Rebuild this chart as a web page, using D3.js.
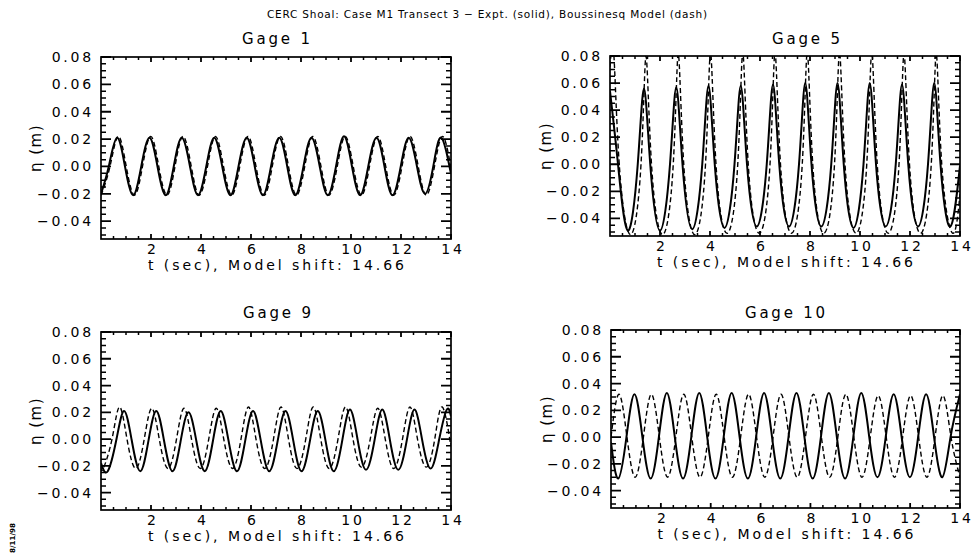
<!DOCTYPE html>
<html><head><meta charset="utf-8">
<script src="https://cdn.jsdelivr.net/npm/d3@7"></script>
<style>
html,body{margin:0;padding:0;background:#fff;}
svg{display:block;font-family:"DejaVu Sans",sans-serif;}
</style></head><body>
<svg id="chart" width="974" height="555"></svg>
<script>
// ---------- text / ticks ----------
const mainTitle = "CERC Shoal: Case M1 Transect 3 \u2212 Expt. (solid), Boussinesq Model (dash)";
const gageNames = ["Gage 1", "Gage 5", "Gage 9", "Gage 10"];
const xLabel = "t (sec), Model shift: 14.66";
const yLabel = "\u03B7 (m)";
const xMajorTicks = [2, 4, 6, 8, 10, 12, 14];
const yMajorTicks = [0.08, 0.06, 0.04, 0.02, 0.00, -0.02, -0.04];
const xMinorTicks = [0.5, 1, 1.5, 2.5, 3, 3.5, 4.5, 5, 5.5, 6.5, 7, 7.5, 8.5, 9, 9.5, 10.5, 11, 11.5, 12.5, 13, 13.5];
const yMinorTicks = [0.075, 0.07, 0.065, 0.055, 0.05, 0.045, 0.035, 0.03, 0.025, 0.015, 0.01, 0.005, -0.005, -0.01, -0.015, -0.025, -0.03, -0.035, -0.045, -0.05];
const xDomain = [0, 14];
const yDomain = [-0.053, 0.08];
const dateStamp = "8/11/98";

// ---------- data: [t (s), eta (m)] ----------
const g1Expt = [[0,-0.020],[0.31,0],[0.64,0.021],[0.96,0],[1.29,-0.021],[1.61,0],[1.94,0.021],[2.26,0],[2.59,-0.021],[2.91,0],[3.23,0.021],[3.56,0],[3.88,-0.021],[4.21,0],[4.53,0.021],[4.85,0],[5.18,-0.021],[5.50,0],[5.83,0.021],[6.15,0],[6.48,-0.021],[6.80,0],[7.13,0.021],[7.45,0],[7.77,-0.021],[8.10,0],[8.42,0.021],[8.75,0],[9.07,-0.021],[9.40,0],[9.72,0.022],[10.04,0],[10.37,-0.021],[10.69,0],[11.02,0.021],[11.34,0],[11.66,-0.021],[11.99,0],[12.31,0.021],[12.64,0],[12.96,-0.020],[13.29,0],[13.61,0.021],[13.94,0],[14,-0.004]];
const g1Model = [[0,-0.021],[0.36,0],[0.69,0.022],[1.01,0],[1.34,-0.021],[1.66,0],[1.99,0.022],[2.31,0],[2.64,-0.021],[2.96,0],[3.28,0.022],[3.61,0],[3.93,-0.021],[4.26,0],[4.58,0.022],[4.90,0],[5.23,-0.021],[5.55,0],[5.88,0.022],[6.20,0],[6.53,-0.021],[6.85,0],[7.18,0.022],[7.50,0],[7.82,-0.021],[8.15,0],[8.47,0.022],[8.80,0],[9.12,-0.021],[9.45,0],[9.77,0.022],[10.09,0],[10.42,-0.021],[10.74,0],[11.07,0.022],[11.39,0],[11.71,-0.021],[12.04,0],[12.36,0.022],[12.69,0],[13.01,-0.021],[13.34,0],[13.66,0.022],[14,-0.001]];

const g5Expt = [[0,0.054],[0.32,0],[0.71,-0.049],[1.11,0],[1.36,0.056],[1.61,0],[2.00,-0.049],[2.40,0],[2.65,0.057],[2.90,0],[3.29,-0.048],[3.69,0],[3.94,0.058],[4.19,0],[4.58,-0.047],[4.98,0],[5.23,0.058],[5.48,0],[5.87,-0.046],[6.27,0],[6.52,0.059],[6.77,0],[7.16,-0.046],[7.56,0],[7.81,0.060],[8.06,0],[8.45,-0.046],[8.85,0],[9.10,0.060],[9.35,0],[9.74,-0.047],[10.14,0],[10.39,0.060],[10.64,0],[11.03,-0.046],[11.43,0],[11.68,0.059],[11.93,0],[12.32,-0.046],[12.72,0],[12.97,0.060],[13.22,0],[13.61,-0.046],[14,-0.001]];
const g5Model = [[0,0.072],[0.15,0.082],[0.37,0],[0.81,-0.052],[1.24,0],[1.44,0.080],[1.66,0],[2.10,-0.052],[2.53,0],[2.73,0.082],[2.95,0],[3.39,-0.052],[3.82,0],[4.02,0.083],[4.24,0],[4.68,-0.051],[5.11,0],[5.31,0.083],[5.53,0],[5.97,-0.051],[6.40,0],[6.60,0.083],[6.82,0],[7.26,-0.051],[7.69,0],[7.89,0.083],[8.11,0],[8.55,-0.051],[8.98,0],[9.18,0.083],[9.40,0],[9.84,-0.051],[10.27,0],[10.47,0.083],[10.69,0],[11.13,-0.051],[11.56,0],[11.76,0.082],[11.98,0],[12.42,-0.051],[12.85,0],[13.05,0.082],[13.27,0],[13.71,-0.051],[14,-0.022]];

const g9Expt = [[0,-0.018],[0.27,-0.024],[0.62,0],[0.92,0.021],[1.22,0],[1.57,-0.024],[1.91,0],[2.21,0.021],[2.51,0],[2.86,-0.024],[3.20,0],[3.50,0.020],[3.80,0],[4.15,-0.024],[4.49,0],[4.79,0.021],[5.09,0],[5.44,-0.024],[5.78,0],[6.08,0.021],[6.38,0],[6.73,-0.024],[7.08,0],[7.38,0.021],[7.68,0],[8.02,-0.024],[8.37,0],[8.67,0.021],[8.97,0],[9.31,-0.024],[9.66,0],[9.96,0.022],[10.26,0],[10.60,-0.023],[10.95,0],[11.25,0.022],[11.55,0],[11.89,-0.023],[12.24,0],[12.54,0.022],[12.84,0],[13.19,-0.022],[13.53,0],[13.83,0.022],[14,0.017]];
const g9Model = [[0,-0.021],[0.09,-0.022],[0.44,0],[0.74,0.024],[1.04,0],[1.39,-0.022],[1.73,0],[2.03,0.023],[2.33,0],[2.68,-0.022],[3.02,0],[3.32,0.023],[3.62,0],[3.97,-0.022],[4.31,0],[4.61,0.023],[4.91,0],[5.26,-0.022],[5.60,0],[5.90,0.024],[6.20,0],[6.55,-0.022],[6.90,0],[7.20,0.024],[7.50,0],[7.84,-0.022],[8.19,0],[8.49,0.024],[8.79,0],[9.13,-0.022],[9.48,0],[9.78,0.024],[10.08,0],[10.42,-0.021],[10.77,0],[11.07,0.023],[11.37,0],[11.71,-0.022],[12.06,0],[12.36,0.024],[12.66,0],[13.01,-0.021],[13.35,0],[13.65,0.024],[13.95,0],[14,-0.003]];

const g10Expt = [[0,-0.004],[0.29,-0.031],[0.62,0],[0.94,0.032],[1.26,0],[1.59,-0.031],[1.92,0],[2.24,0.033],[2.56,0],[2.89,-0.031],[3.22,0],[3.54,0.033],[3.86,0],[4.19,-0.031],[4.52,0],[4.84,0.033],[5.16,0],[5.49,-0.031],[5.82,0],[6.14,0.033],[6.46,0],[6.79,-0.031],[7.12,0],[7.44,0.033],[7.76,0],[8.09,-0.031],[8.42,0],[8.74,0.033],[9.06,0],[9.39,-0.031],[9.72,0],[10.04,0.033],[10.36,0],[10.69,-0.030],[11.02,0],[11.34,0.032],[11.66,0],[11.99,-0.030],[12.32,0],[12.64,0.032],[12.96,0],[13.29,-0.030],[13.62,0],[14,0.032]];
const g10Model = [[0,0],[0.32,0.032],[0.64,0],[0.97,-0.030],[1.30,0],[1.62,0.032],[1.94,0],[2.27,-0.030],[2.60,0],[2.92,0.032],[3.24,0],[3.57,-0.030],[3.90,0],[4.22,0.032],[4.54,0],[4.87,-0.030],[5.20,0],[5.52,0.032],[5.84,0],[6.17,-0.030],[6.50,0],[6.82,0.032],[7.14,0],[7.47,-0.030],[7.80,0],[8.12,0.032],[8.44,0],[8.77,-0.030],[9.10,0],[9.42,0.032],[9.74,0],[10.07,-0.030],[10.40,0],[10.72,0.031],[11.04,0],[11.37,-0.030],[11.70,0],[12.02,0.031],[12.34,0],[12.67,-0.030],[13.00,0],[13.32,0.031],[13.64,0],[14,-0.030]];

const exptSeries = [g1Expt, g5Expt, g9Expt, g10Expt];
const modelSeries = [g1Model, g5Model, g9Model, g10Model];

// ---------- layout ----------
const panels = [
  {x0:101, x1:451, y0:57,  y1:239, tx:276, ty:44,  yl:41},
  {x0:610, x1:960, y0:56,  y1:236, tx:806, ty:44,  yl:551},
  {x0:101, x1:451, y0:332, y1:510, tx:277, ty:318, yl:41},
  {x0:611, x1:960, y0:330, y1:508, tx:785, ty:318, yl:552}
];

const svg = d3.select("#chart");
const defs = svg.append("defs");
svg.append("rect").attr("width",974).attr("height",555).attr("fill","#fff");

svg.append("text").attr("x",487).attr("y",18).attr("text-anchor","middle")
  .attr("font-size",10.5).attr("textLength",440).attr("lengthAdjust","spacing")
  .text(mainTitle);

const LS = 2.8;
const TF = 14;
const MAJ_Y = 10, MIN_Y = 5, MAJ_X = 5, MIN_X = 3;

panels.forEach((p, i) => {
  const x = d3.scaleLinear().domain(xDomain).range([p.x0, p.x1]);
  const y = d3.scaleLinear().domain(yDomain).range([p.y1, p.y0]);
  const g = svg.append("g");

  defs.append("clipPath").attr("id","clip"+i).append("rect")
    .attr("x",p.x0).attr("y",p.y0).attr("width",p.x1-p.x0).attr("height",p.y1-p.y0);

  const line = d3.line().x(d => x(d[0])).y(d => y(d[1])).curve(d3.curveNatural);
  g.append("path").datum(modelSeries[i]).attr("d", line).attr("clip-path","url(#clip"+i+")")
    .attr("fill","none").attr("stroke","#000").attr("stroke-width",1.4).attr("stroke-dasharray","5,3");
  g.append("path").datum(exptSeries[i]).attr("d", line).attr("clip-path","url(#clip"+i+")")
    .attr("fill","none").attr("stroke","#000").attr("stroke-width",2);

  // frame
  g.append("rect").attr("x",p.x0).attr("y",p.y0).attr("width",p.x1-p.x0).attr("height",p.y1-p.y0)
    .attr("fill","none").attr("stroke","#000").attr("stroke-width",1.7);

  // inward tick marks on all four sides (drawn on top), positioned through the scales
  const tg = g.append("g").attr("class","ticks");
  function tickPath(vals, side, len, w){
    const d = vals.map(v => {
      if (side === "L") return `M${p.x0},${y(v)}H${p.x0 + len}`;
      if (side === "R") return `M${p.x1},${y(v)}H${p.x1 - len}`;
      if (side === "B") return `M${x(v)},${p.y1}V${p.y1 - len}`;
      return `M${x(v)},${p.y0}V${p.y0 + len}`;
    }).join("");
    tg.append("path").attr("d", d).attr("fill","none").attr("stroke","#000").attr("stroke-width", w);
  }
  ["L","R"].forEach(s => { tickPath(yMajorTicks, s, MAJ_Y, 1.8); tickPath(yMinorTicks, s, MIN_Y, 1.5); });
  ["B","T"].forEach(s => { tickPath(xMajorTicks, s, MAJ_X, 1.8); tickPath(xMinorTicks, s, MIN_X, 1.5); });

  // tick labels via d3 axes
  g.append("g").attr("transform",`translate(${p.x0},0)`)
    .call(d3.axisLeft(y).tickValues(yMajorTicks).tickSize(0).tickPadding(7).tickFormat(d3.format(".2f")))
    .call(s => s.select(".domain").remove())
    .call(s => s.attr("font-size",null).attr("font-family",null))
    .call(s => s.selectAll("text").attr("font-size",TF).attr("letter-spacing",LS).attr("fill","#000"));
  g.append("g").attr("transform",`translate(0,${p.y1})`)
    .call(d3.axisBottom(x).tickValues(xMajorTicks).tickSize(0))
    .call(s => s.select(".domain").remove())
    .call(s => s.attr("font-size",null).attr("font-family",null))
    .call(s => s.selectAll("text").attr("y",14.5).attr("dy",null).attr("dx",LS/2)
      .attr("font-size",TF).attr("letter-spacing",LS).attr("fill","#000"));

  // titles / labels
  g.append("text").attr("x",p.tx).attr("y",p.ty).attr("text-anchor","middle")
    .attr("font-size",15).attr("textLength", i === 3 ? 80 : 68).attr("lengthAdjust","spacing")
    .text(gageNames[i]);
  g.append("text").attr("x",(p.x0+p.x1)/2).attr("y",p.y1+31).attr("text-anchor","middle")
    .attr("font-size",TF).attr("textLength",256).attr("lengthAdjust","spacing")
    .text(xLabel);
  g.append("text").attr("transform",`translate(${p.yl},${(p.y0+p.y1)/2}) rotate(-90)`)
    .attr("text-anchor","middle").attr("font-size",15).attr("letter-spacing",1.5)
    .text(yLabel);
});

svg.append("text").attr("transform","translate(15,538) rotate(-90)")
  .attr("text-anchor","middle").attr("font-size",7).attr("font-weight","bold")
  .attr("textLength",30).attr("lengthAdjust","spacingAndGlyphs").text(dateStamp);
</script>
</body></html>
